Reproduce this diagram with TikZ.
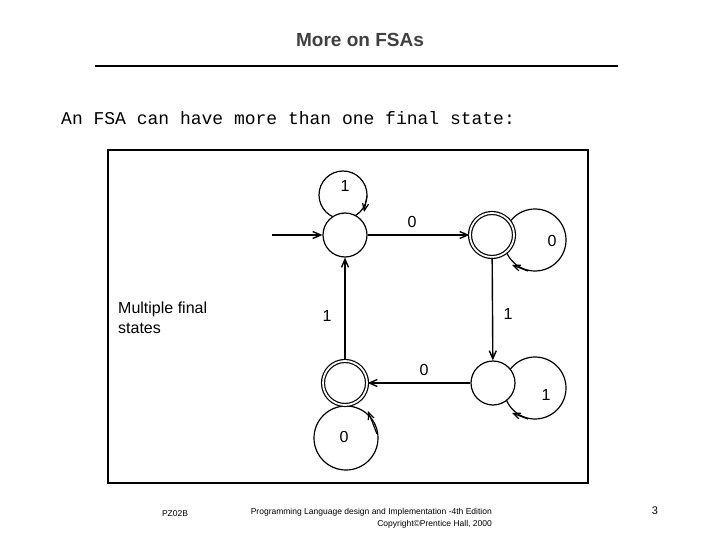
\documentclass[tikz,border=0pt]{standalone}
\usepackage{fontspec}
\setmainfont{Liberation Sans}
\newfontfamily\monof{Liberation Mono}
\usetikzlibrary{arrows.meta}
\begin{document}
\begin{tikzpicture}[x=1pt,y=-1pt,
 st/.style={circle,draw,fill=white,minimum size=44pt,inner sep=0pt,line width=1.2pt},
 fin/.style={st,double,double distance=1.8pt},
 lp/.style={line width=1.2pt},
 ar/.style={line width=1.4pt,-{Straight Barb[length=8pt,width=7pt]}},
 lab/.style={font=\fontsize{16}{16}\selectfont}]
\useasboundingbox (0,0) rectangle (720,540);
\node[font=\bfseries\fontsize{19}{19}\selectfont,text=black!75] (t) at (360,40) {More on FSAs};
\draw[line width=2.5pt] (95,66) coordinate (l1) -- (618,66) coordinate (l2);
\node[anchor=west,font=\monof\fontsize{18}{18}\selectfont,inner sep=0pt] (s) at (61,118) {An FSA can have more than one final state:};
\draw[line width=1.5pt] (108,150) rectangle (588,483);
% loops
\draw[lp] (343,195) circle (24);
\draw[lp] (535,240) circle (31);
\draw[lp] (535,388) circle (31);
\draw[lp] (346,438) circle (32);
\node[st] (A) at (345,235) {};
\node[fin] (B) at (492,235) {};
\node[st] (C) at (493,383) {};
\node[fin] (D) at (345,383) {};
\coordinate (in) at (272,235);
\draw[ar] (in) -- (A);
\draw[ar] (A) -- (B);
\draw[ar] (B) -- (C);
\draw[ar] (C) -- (D);
\draw[ar] (D) -- (A);
% loop arrowheads
\draw[lp,-{Straight Barb[length=7pt,width=6pt]}] (367,196) -- (364,212);
\draw[lp,-{Straight Barb[length=7pt,width=6pt]}] (528,271) -- (512,265);
\draw[lp,-{Straight Barb[length=7pt,width=6pt]}] (528,419) -- (512,413);
\draw[lp,-{Straight Barb[length=7pt,width=6pt]}] (377,434) -- (368,411);
\node[lab] (la) at (345,186) {1};
\node[lab] (lb) at (412,222) {0};
\node[lab] (lc) at (552,241) {0};
\node[lab] (ld) at (508,314) {1};
\node[lab] (le) at (327,316) {1};
\node[lab] (lf) at (424,370) {0};
\node[lab] (lg) at (546,395) {1};
\node[lab] (lh) at (344,437) {0};
\node[anchor=west,align=left,font=\fontsize{16}{20}\selectfont,inner sep=0pt] (m) at (118,318) {Multiple final\\states};
\node[font=\fontsize{8.5}{9}\selectfont] (f1) at (175,514) {PZ02B};
\node[font=\fontsize{8.5}{12}\selectfont,align=right,anchor=north east,inner sep=0pt] (f2) at (492,508) {Programming Language design and Implementation -4th Edition\\Copyright\textcopyright Prentice Hall, 2000};
\node[font=\fontsize{11}{11}\selectfont] (f3) at (655,511) {3};
\end{tikzpicture}
\end{document}
